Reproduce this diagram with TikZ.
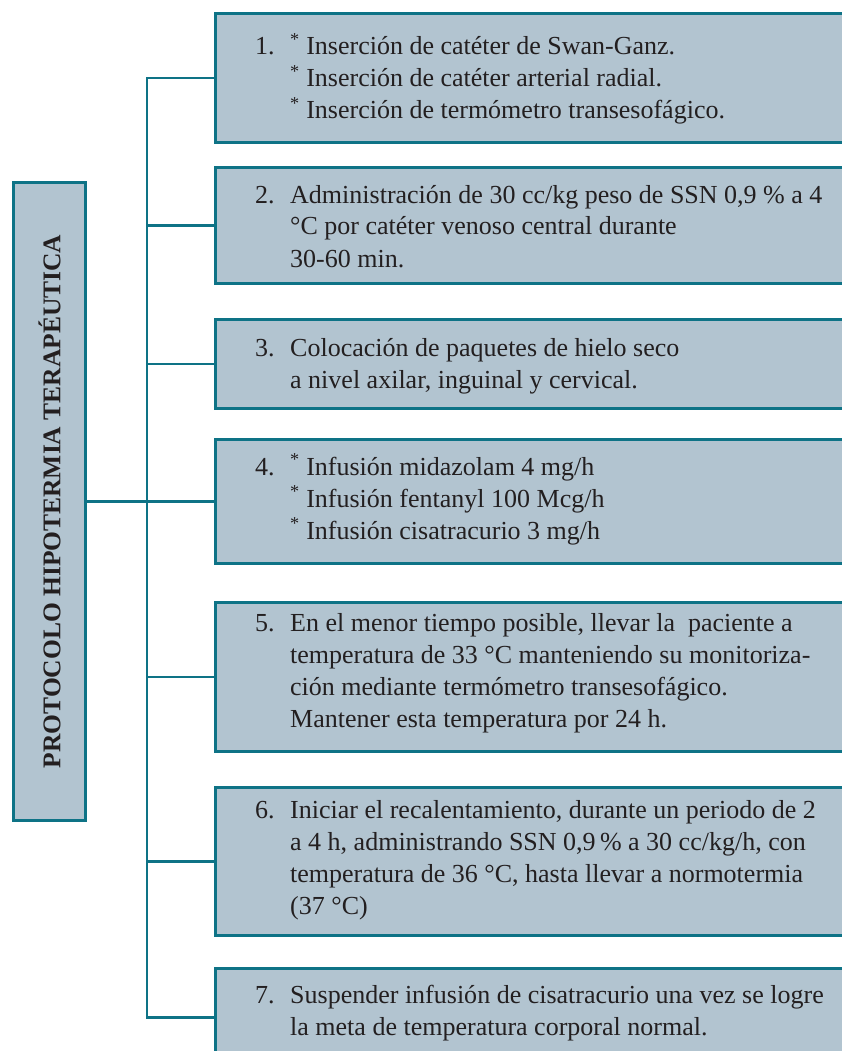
\documentclass[tikz,border=0pt]{standalone}
\usepackage{fontspec}
\setmainfont{Liberation Serif}
\usetikzlibrary{shadows}
\definecolor{boxline}{HTML}{0E7386}
\definecolor{boxfill}{HTML}{B2C4D0}
\definecolor{txt}{HTML}{231F20}
\begin{document}
\begin{tikzpicture}[x=1pt,y=-1pt,
  stepbox/.style={draw=boxline, line width=3pt, fill=boxfill, rectangle, inner sep=0pt,
    anchor=north west, minimum width=660pt,
    drop shadow={shadow xshift=1.5pt, shadow yshift=-1.5pt, fill=black, opacity=0.18}},
  titlebox/.style={draw=boxline, line width=3pt, fill=boxfill, rectangle, inner sep=0pt,
    anchor=north west, minimum width=72pt, minimum height=638pt,
    drop shadow={shadow xshift=1.5pt, shadow yshift=-1.5pt, fill=black, opacity=0.18}},
  conn/.style={draw=boxline, line width=2.5pt},
  num/.style={anchor=base west, inner sep=0pt, text=txt, font=\fontsize{26}{32}\selectfont},
  body/.style={anchor=base west, inner sep=0pt, text=txt, font=\fontsize{26}{32}\selectfont},
  title/.style={inner sep=0pt, text=txt, rotate=90, font=\fontsize{25.5}{30}\selectfont\bfseries}]
\useasboundingbox (0,0) rectangle (841,1051);

% boxes
\node[stepbox, minimum height=129pt] (b1) at (214,12) {};
\node[stepbox, minimum height=116pt] (b2) at (214,166) {};
\node[stepbox, minimum height=89pt] (b3) at (214,318) {};
\node[stepbox, minimum height=124pt] (b4) at (214,438) {};
\node[stepbox, minimum height=149pt] (b5) at (214,601) {};
\node[stepbox, minimum height=148pt] (b6) at (214,786) {};
\node[stepbox, minimum height=98pt] (b7) at (214,967) {};
\node[titlebox] (t) at (12,181) {};
\node[title] (tt) at (t.center) {PROTOCOLO HIPOTERMIA TERAPÉUTICA};

% connectors
\coordinate (tr) at (147,0);
\draw[conn] (b1.west) -- (b1.west -| tr) -- (b7.west -| tr) -- (b7.west);
\draw[conn] (b2.west) -- (b2.west -| tr);
\draw[conn] (b3.west) -- (b3.west -| tr);
\draw[conn] (b4.west) -- (b4.west -| tr);
\draw[conn] (b5.west) -- (b5.west -| tr);
\draw[conn] (b6.west) -- (b6.west -| tr);
\draw[conn] (t.east) -- (t.east -| tr);

% texts
\node[num] (n1) at (255,55) {1.};
\node[body] (x1) at (290,55) {\begin{tabular}[t]{@{}l@{}}
\textsuperscript{*} Inserción de catéter de Swan-Ganz.\\
\textsuperscript{*} Inserción de catéter arterial radial.\\
\textsuperscript{*} Inserción de termómetro transesofágico.
\end{tabular}};

\node[num] (n2) at (255,203) {2.};
\node[body] (x2) at (290,203) {\begin{tabular}[t]{@{}l@{}}
Administración de 30 cc/kg peso de SSN 0,9 \% a 4\\
°C por catéter venoso central durante\\
30-60 min.
\end{tabular}};

\node[num] (n3) at (255,356) {3.};
\node[body] (x3) at (290,356) {\begin{tabular}[t]{@{}l@{}}
Colocación de paquetes de hielo seco\\
a nivel axilar, inguinal y cervical.
\end{tabular}};

\node[num] (n4) at (255,475) {4.};
\node[body] (x4) at (290,475) {\begin{tabular}[t]{@{}l@{}}
\textsuperscript{*} Infusión midazolam 4 mg/h\\
\textsuperscript{*} Infusión fentanyl 100 Mcg/h\\
\textsuperscript{*} Infusión cisatracurio 3 mg/h
\end{tabular}};

\node[num] (n5) at (255,631) {5.};
\node[body] (x5) at (290,631) {\begin{tabular}[t]{@{}l@{}}
En el menor tiempo posible, llevar la\ \ paciente a\\
temperatura de 33 °C manteniendo su monitoriza-\\
ción mediante termómetro transesofágico.\\
Mantener esta temperatura por 24 h.
\end{tabular}};

\node[num] (n6) at (255,818) {6.};
\node[body] (x6) at (290,818) {\begin{tabular}[t]{@{}l@{}}
Iniciar el recalentamiento, durante un periodo de 2\\
a 4 h, administrando SSN 0,9\,\% a 30 cc/kg/h, con\\
temperatura de 36 °C, hasta llevar a normotermia\\
(37 °C)
\end{tabular}};

\node[num] (n7) at (255,1003) {7.};
\node[body] (x7) at (290,1003) {\begin{tabular}[t]{@{}l@{}}
Suspender infusión de cisatracurio una vez se logre\\
la meta de temperatura corporal normal.
\end{tabular}};
\end{tikzpicture}
\end{document}
